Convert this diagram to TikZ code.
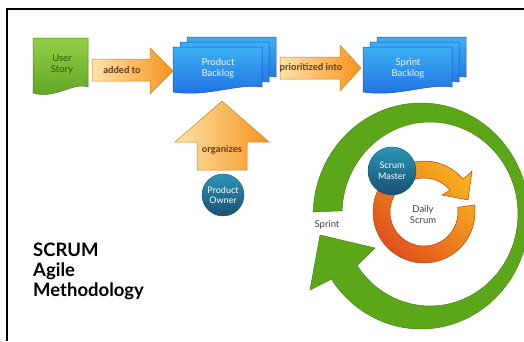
\documentclass[tikz,border=0pt]{standalone}
\usepackage{fontspec}
\setmainfont{Lato}
\usetikzlibrary{calc}

\definecolor{leafhi}{HTML}{93CF45}
\definecolor{leaflo}{HTML}{5EA423}
\definecolor{leafink}{HTML}{2F5A0E}
\definecolor{skyhi}{HTML}{3CB0F5}
\definecolor{skylo}{HTML}{1E6EE0}
\definecolor{skyline}{HTML}{1957B8}
\definecolor{sunhi}{HTML}{FDE3A7}
\definecolor{sunlo}{HTML}{F7931E}
\definecolor{sunline}{HTML}{C9812E}
\definecolor{sunink}{HTML}{5A3A1A}
\definecolor{tealhi}{HTML}{2A97B8}
\definecolor{teallo}{HTML}{1A4F72}
\definecolor{limehi}{HTML}{A2DA2E}
\definecolor{limelo}{HTML}{5CA619}
\definecolor{fireh}{HTML}{F7B21F}
\definecolor{firel}{HTML}{E04D1C}

\newcommand{\docpath}{(0,0) -- (1,0) -- (1,-0.89) .. controls (0.72,-0.8) and (0.4,-1.12) .. (0,-1) -- cycle}

\tikzset{
  docgreen/.style={top color=leafhi, bottom color=leaflo, draw=leaflo!80!black, line width=.5pt},
  docblue/.style={top color=skyhi, bottom color=skylo, draw=skyline, line width=.5pt},
  blockarrow/.style={left color=sunhi, right color=sunlo, draw=sunline, line width=.5pt},
  roundbox/.style={circle, top color=tealhi, bottom color=teallo, draw=teallo, inner sep=0pt,
    text=white, align=center, font=\fontsize{9}{10.5}\selectfont},
  lighttext/.style={text=white!90!skyhi, align=center, font=\fontsize{9.5}{11}\selectfont},
  arrowtext/.style={text=sunink, font=\fontsize{9.5}{11}\selectfont\bfseries},
  darktext/.style={text=black!75, align=center, font=\fontsize{9.5}{11}\selectfont},
}

\begin{document}
\begin{tikzpicture}[x=1pt, y=1pt]
        \useasboundingbox (0,0) rectangle (524,341);
        \draw[line width=1.6pt] (7,0) -- (7,332) -- (524,332);

        % user story
        \begin{scope}[shift={(33,303)}, xscale=55, yscale=55]
            \path[docgreen] \docpath;
        \end{scope}
        \node[text=leafink, align=center, font=\fontsize{9.5}{11}\selectfont] (userstory) at (62,277) {User\\Story};

        % backlogs
        \foreach \dx/\dy in {14/10, 7/5, 0/0} {
            \begin{scope}[shift={(173+\dx,294+\dy)}, xscale=89, yscale=45]
                \path[docblue] \docpath;
            \end{scope}
            \begin{scope}[shift={(363+\dx,294+\dy)}, xscale=89, yscale=45]
                \path[docblue] \docpath;
            \end{scope}
        }
        \node[lighttext] (prodbacklog) at (218,273) {Product\\Backlog};
        \node[lighttext] (sprintbacklog) at (408,273) {Sprint\\Backlog};

        % block arrows
        \path[blockarrow] (92,282) -- (150,282) -- (150,293) -- (173,270) -- (150,247) -- (150,260) -- (92,260) -- cycle;
        \node[arrowtext] (addedto) at (122,271) {added to};
        \path[blockarrow] (280,284) -- (340,284) -- (340,296) -- (361,273) -- (340,250) -- (340,262) -- (280,262) -- cycle;
        \node[arrowtext] (prioritized) at (311,273) {prioritized into};
        \path[blockarrow] (197,171) -- (197,199) -- (175,199) -- (222,240) -- (269,199) -- (247,199) -- (247,171) -- cycle;
        \node[arrowtext] (organizes) at (222,191) {organizes};

        \node[roundbox, minimum size=42pt] (prodowner) at (223,146) {Product\\Owner};

        % sprint cycle
        \coordinate (go) at (421,125);
        \coordinate (gi) at (430,127);
        \path[top color=limelo, middle color=limehi, bottom color=limelo, draw=limelo!80!black, line width=.5pt]
            ($(go)+(178:108 and 113)$) arc[start angle=178, end angle=-146, x radius=108, y radius=113]
            -- (310,51) -- (320,106) -- (375,93)
            -- ($(gi)+(-146:88 and 92)$) arc[start angle=-146, end angle=178, x radius=88, y radius=92] -- cycle;
        \node[darktext] (sprint) at (327,116) {Sprint};

        % daily scrum
        \coordinate (oc) at (424,129);
        \path[top color=fireh, bottom color=firel, shading angle=-45, draw=firel!80!black, line width=.5pt]
            ($(oc)+(8:51)$) arc[start angle=8, end angle=-320, radius=51]
            -- (472,170) -- (468,141) -- (442,146)
            -- ($(oc)+(40:34)$) arc[start angle=40, end angle=368, radius=34] -- cycle;
        \node[darktext] (dailyscrum) at (423,126) {Daily\\Scrum};

        \node[roundbox, minimum size=48pt] (scrummaster) at (392,170) {Scrum\\Master};

        \node[anchor=north west, inner sep=0pt, align=left, text=black,
            font=\fontsize{18.5}{20}\selectfont\bfseries] (title) at (33,98) {SCRUM\\Agile\\Methodology};
\end{tikzpicture}
\end{document}
